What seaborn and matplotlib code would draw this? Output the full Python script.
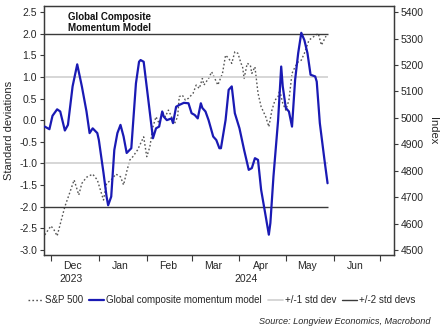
import matplotlib
matplotlib.use("Agg")
import matplotlib.pyplot as plt
import matplotlib.dates as mdates
import matplotlib.transforms as mtransforms
from matplotlib.lines import Line2D
import numpy as np
import pandas as pd
import seaborn as sns

# ---------------- data ----------------
momentum_dates = [
    "2023-11-27", "2023-11-30", "2023-12-02", "2023-12-05", "2023-12-07", "2023-12-10",
    "2023-12-12", "2023-12-15", "2023-12-18", "2023-12-21", "2023-12-24", "2023-12-26",
    "2023-12-28", "2023-12-31", "2024-01-01", "2024-01-04", "2024-01-06", "2024-01-07",
    "2024-01-09", "2024-01-11", "2024-01-13", "2024-01-15", "2024-01-17", "2024-01-19",
    "2024-01-22", "2024-01-25", "2024-01-27", "2024-01-28", "2024-01-30", "2024-02-02",
    "2024-02-05", "2024-02-07", "2024-02-09", "2024-02-11", "2024-02-12", "2024-02-14",
    "2024-02-17", "2024-02-18", "2024-02-20", "2024-02-22", "2024-02-25", "2024-02-28",
    "2024-03-01", "2024-03-03", "2024-03-05", "2024-03-07", "2024-03-08", "2024-03-10",
    "2024-03-12", "2024-03-15", "2024-03-17", "2024-03-19", "2024-03-20", "2024-03-23",
    "2024-03-25", "2024-03-27", "2024-03-29", "2024-04-01", "2024-04-04", "2024-04-07",
    "2024-04-09", "2024-04-11", "2024-04-13", "2024-04-15", "2024-04-18", "2024-04-20",
    "2024-04-21", "2024-04-23", "2024-04-26", "2024-04-28", "2024-04-29", "2024-05-01",
    "2024-05-03", "2024-05-05", "2024-05-07", "2024-05-09", "2024-05-11", "2024-05-13",
    "2024-05-15", "2024-05-17", "2024-05-20", "2024-05-21", "2024-05-23", "2024-05-26",
    "2024-05-28",
]
momentum_values = [
    -0.15, -0.21, 0.10, 0.25, 0.20, -0.24,
    -0.11, 0.78, 1.29, 0.78, 0.20, -0.30,
    -0.19, -0.30, -0.46, -1.22, -1.77, -1.97,
    -1.77, -0.69, -0.30, -0.11, -0.38, -0.76,
    -0.65, 0.85, 1.35, 1.39, 1.35, 0.47,
    -0.42, -0.19, -0.15, 0.20, 0.08, 0.00,
    0.04, -0.07, 0.31, 0.35, 0.40, 0.39,
    0.16, 0.12, 0.04, 0.39, 0.28, 0.20,
    0.00, -0.38, -0.46, -0.65, -0.65, 0.00,
    0.70, 0.78, 0.16, -0.19, -0.69, -1.15,
    -1.11, -0.88, -0.92, -1.61, -2.23, -2.65,
    -2.38, -1.30, 0.00, 1.24, 0.78, 0.28,
    0.20, -0.15, 0.93, 1.55, 2.02, 1.85,
    1.55, 1.05, 1.01, 0.89, -0.07, -0.92,
    -1.46,
]

spx_dates = [
    "2023-11-27", "2023-12-01", "2023-12-03", "2023-12-05", "2023-12-08", "2023-12-10",
    "2023-12-13", "2023-12-16", "2023-12-18", "2023-12-19", "2023-12-21", "2023-12-24",
    "2023-12-28", "2023-12-31", "2024-01-02", "2024-01-04", "2024-01-06", "2024-01-09",
    "2024-01-12", "2024-01-15", "2024-01-17", "2024-01-19", "2024-01-21", "2024-01-23",
    "2024-01-26", "2024-01-28", "2024-01-30", "2024-02-01", "2024-02-03", "2024-02-05",
    "2024-02-07", "2024-02-09", "2024-02-11", "2024-02-13", "2024-02-15", "2024-02-16",
    "2024-02-19", "2024-02-21", "2024-02-22", "2024-02-24", "2024-02-26", "2024-02-28",
    "2024-03-02", "2024-03-04", "2024-03-06", "2024-03-08", "2024-03-09", "2024-03-12",
    "2024-03-14", "2024-03-16", "2024-03-18", "2024-03-21", "2024-03-23", "2024-03-25",
    "2024-03-27", "2024-03-29", "2024-03-31", "2024-04-02", "2024-04-03", "2024-04-04",
    "2024-04-06", "2024-04-08", "2024-04-09", "2024-04-11", "2024-04-13", "2024-04-15",
    "2024-04-18", "2024-04-20", "2024-04-22", "2024-04-24", "2024-04-26", "2024-04-27",
    "2024-04-29", "2024-05-01", "2024-05-03", "2024-05-05", "2024-05-07", "2024-05-09",
    "2024-05-11", "2024-05-13", "2024-05-16", "2024-05-19", "2024-05-22", "2024-05-24",
    "2024-05-27",
]
spx_values = [
    4557, 4591, 4576, 4553, 4620, 4664,
    4714, 4765, 4727, 4708, 4752, 4775,
    4787, 4765, 4727, 4689, 4752, 4765,
    4787, 4777, 4746, 4796, 4840, 4853,
    4878, 4903, 4928, 4853, 4890, 4966,
    5004, 4979, 5023, 5004, 5029, 5017,
    4979, 5004, 5080, 5086, 5067, 5074,
    5093, 5124, 5111, 5149, 5124, 5149,
    5174, 5149, 5124, 5168, 5237, 5225,
    5206, 5250, 5244, 5206, 5193, 5149,
    5206, 5200, 5168, 5193, 5093, 5042,
    5004, 4966, 5029, 5067, 5080, 5105,
    5055, 5029, 5067, 5168, 5193, 5212,
    5218, 5244, 5294, 5307, 5319, 5275,
    5309,
]

std_levels_1 = [-1.0, 1.0]
std_levels_2 = [-2.0, 2.0]

left_ticks = [-3.0, -2.5, -2.0, -1.5, -1.0, -0.5, 0.0, 0.5, 1.0, 1.5, 2.0, 2.5]
right_ticks = [4500, 4600, 4700, 4800, 4900, 5000, 5100, 5200, 5300, 5400]
month_labels = ["Dec", "Jan", "Feb", "Mar", "Apr", "May", "Jun"]

title_text = "Global Composite\nMomentum Model"
source_text = "Source: Longview Economics, Macrobond"

# ---------------- style ----------------
sns.set_theme(style="white")
plt.rcParams["font.family"] = ["Liberation Sans", "DejaVu Sans"]
plt.rcParams["axes.unicode_minus"] = False

BLUE = "#1a1ab4"
DOT = "#555555"
LIGHT = "#cfcfcf"
DARK = "#3a3a3a"
TXT = "#262626"
FS = 7.5

mom = pd.DataFrame({"date": pd.to_datetime(momentum_dates), "value": momentum_values})
spx = pd.DataFrame({"date": pd.to_datetime(spx_dates), "value": spx_values})

fig = plt.figure(figsize=(4.44, 3.35), dpi=100)
ax = fig.add_axes([44 / 444, 80 / 335, 350 / 444, 249 / 335])
ax2 = ax.twinx()
ax.set_zorder(ax2.get_zorder() + 1)
ax.patch.set_visible(False)

x0 = pd.Timestamp("2023-11-26 12:00")
x1 = pd.Timestamp("2024-07-10")
x_end = mom["date"].max()

# reference lines
for lv in std_levels_1:
    ax.hlines(lv, x0, x_end, color=LIGHT, lw=1.2, zorder=1)
for lv in std_levels_2:
    ax.hlines(lv, x0, x_end, color=DARK, lw=1.0, zorder=1)

sns.lineplot(data=spx, x="date", y="value", ax=ax2, color=DOT, lw=1.0,
             linestyle=(0, (1.2, 1.6)), legend=False)
sns.lineplot(data=mom, x="date", y="value", ax=ax, color=BLUE, lw=1.6,
             legend=False, zorder=3)

ax.set_xlim(x0, x1)
ax.set_ylim(-3.12, 2.64)
ax2.set_ylim(4481, 5423)

ax.set_yticks(left_ticks)
ax.set_yticklabels([f"{t:.1f}" for t in left_ticks])
ax2.set_yticks(right_ticks)
ax2.set_yticklabels([str(t) for t in right_ticks])

# month ticks
major = pd.date_range("2023-12-01", "2024-07-01", freq="MS")
minor = major[:-1] + pd.Timedelta(days=14)
ax.set_xticks(major)
ax.set_xticklabels([""] * len(major))
ax.set_xticks(minor, minor=True)
ax.set_xticklabels(month_labels, minor=True)
ax.tick_params(axis="x", which="major", direction="out", length=4, width=0.8,
               color=DARK, bottom=True)
ax.tick_params(axis="x", which="minor", length=0, labelsize=FS, labelcolor=TXT, pad=4)
ax.tick_params(axis="y", direction="out", length=3, width=0.8, color=DARK,
               labelsize=FS, labelcolor=TXT, left=True, pad=2)
ax2.tick_params(axis="y", direction="out", length=3, width=0.8, color=DARK,
                labelsize=FS, labelcolor=TXT, right=True, pad=2)

ax.set_xlabel("")
ax.set_ylabel("Standard deviations", fontsize=FS + 0.5, color=TXT, labelpad=4)
ax2.set_xlabel("")
ax2.set_ylabel("Index", fontsize=FS + 0.5, color=TXT, rotation=270, labelpad=10)

for a in (ax, ax2):
    for s in a.spines.values():
        s.set_color(DARK)
        s.set_linewidth(0.9)

# year labels centred on each year's visible span
trans = mtransforms.blended_transform_factory(ax.transData, ax.transAxes)
jan1 = pd.Timestamp("2024-01-01")
y23 = x0 + (jan1 - x0) / 2
y24 = jan1 + (x1 - jan1) / 2
ax.text(mdates.date2num(y23), -0.098, "2023", transform=trans, ha="center",
        va="center", fontsize=FS, color=TXT)
ax.text(mdates.date2num(y24), -0.098, "2024", transform=trans, ha="center",
        va="center", fontsize=FS, color=TXT)

ax.text(0.069, 0.975, title_text, transform=ax.transAxes, ha="left", va="top",
        fontsize=7.0, fontweight="bold", color="#111111", linespacing=1.1)

handles = [
    Line2D([], [], color=DOT, lw=1.0, linestyle=(0, (1.2, 1.6))),
    Line2D([], [], color=BLUE, lw=1.6),
    Line2D([], [], color=LIGHT, lw=1.2),
    Line2D([], [], color=DARK, lw=1.0),
]
labels = ["S&P 500", "Global composite momentum model", "+/-1 std dev", "+/-2 std devs"]
fig.legend(handles, labels, loc="center", bbox_to_anchor=(222 / 444, 1 - 300 / 335),
           ncol=4, frameon=False, fontsize=7.0, handlelength=1.5, handletextpad=0.25,
           columnspacing=0.6, labelcolor=TXT, borderpad=0.2)

fig.text(430 / 444, 1 - 321 / 335, source_text, ha="right", va="center",
         fontsize=6.6, style="italic", color=TXT)

fig.savefig("out.png", dpi=100)
